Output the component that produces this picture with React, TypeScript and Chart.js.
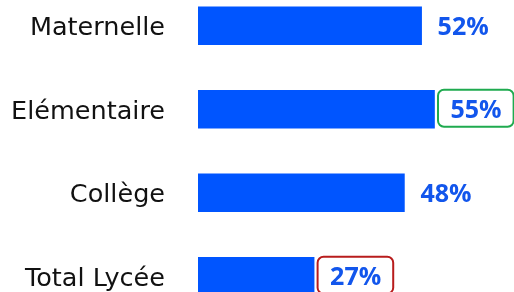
import React, { useEffect, useRef } from "react";
import { Chart, registerables } from "chart.js";

Chart.register(...registerables);

const categories = ["Maternelle", "Elémentaire", "Collège", "Total Lycée"];
const values = [52, 55, 48, 27];
const valueLabels = ["52%", "55%", "48%", "27%"];
// highlight frame per category (null = none)
const highlights: (string | null)[] = [null, "#1FAA4F", null, "#B81C1C"];

const BAR_COLOR = "#0055FF";
const LABEL_COLOR = "#1256EC";

const valueLabelPlugin = {
  id: "valueLabels",
  afterDatasetsDraw(chart: any) {
    const ctx = chart.ctx as CanvasRenderingContext2D;
    const meta = chart.getDatasetMeta(0);
    ctx.save();
    ctx.font = "bold 25px 'Open Sans'";
    ctx.textBaseline = "middle";
    ctx.textAlign = "left";
    meta.data.forEach((bar: any, i: number) => {
      const text = valueLabels[i];
      const tx = bar.x + 16;
      const w = ctx.measureText(text).width;
      const hl = highlights[i];
      if (hl) {
        ctx.beginPath();
        ctx.strokeStyle = hl;
        ctx.lineWidth = 2;
        (ctx as any).roundRect(bar.x + 3.5, bar.y - 19.5, tx + w + 12 - (bar.x + 3.5), 37, 6);
        ctx.stroke();
      }
      ctx.fillStyle = LABEL_COLOR;
      ctx.fillText(text, tx, bar.y + 2);
    });
    ctx.restore();
  },
};

export default function App() {
  const ref = useRef<HTMLCanvasElement | null>(null);
  useEffect(() => {
    if (!ref.current) return;
    const chart = new Chart(ref.current, {
      type: "bar",
      data: {
        labels: categories,
        datasets: [
          {
            data: values,
            backgroundColor: BAR_COLOR,
            borderWidth: 0,
            barThickness: 38,
          },
        ],
      },
      options: {
        indexAxis: "y",
        responsive: false,
        animation: false,
        layout: { padding: 0 },
        plugins: {
          legend: { display: false },
          tooltip: { enabled: false },
        },
        scales: {
          x: {
            display: false,
            min: 0,
            max: 100,
          },
          y: {
            grid: { display: false, drawTicks: false },
            border: { display: false },
            ticks: {
              color: "#111111",
              padding: 33,
              labelOffset: 3,
              font: { family: "'DejaVu Sans'", size: 25.5 },
            },
            afterFit(scale: any) {
              scale.width = 198;
              scale.paddingTop = 0;
              scale.paddingBottom = 0;
            },
          },
        },
      },
      plugins: [valueLabelPlugin],
    });
    return () => chart.destroy();
  }, []);
  return (
    <div
      style={{
        position: "fixed",
        left: 0,
        top: 0,
        width: 514,
        height: 292,
        overflow: "hidden",
        background: "#ffffff",
      }}
    >
      <canvas
        ref={ref}
        width={628}
        height={334}
        style={{ position: "absolute", left: 0, top: -16, width: 628, height: 334 }}
      />
    </div>
  );
}
